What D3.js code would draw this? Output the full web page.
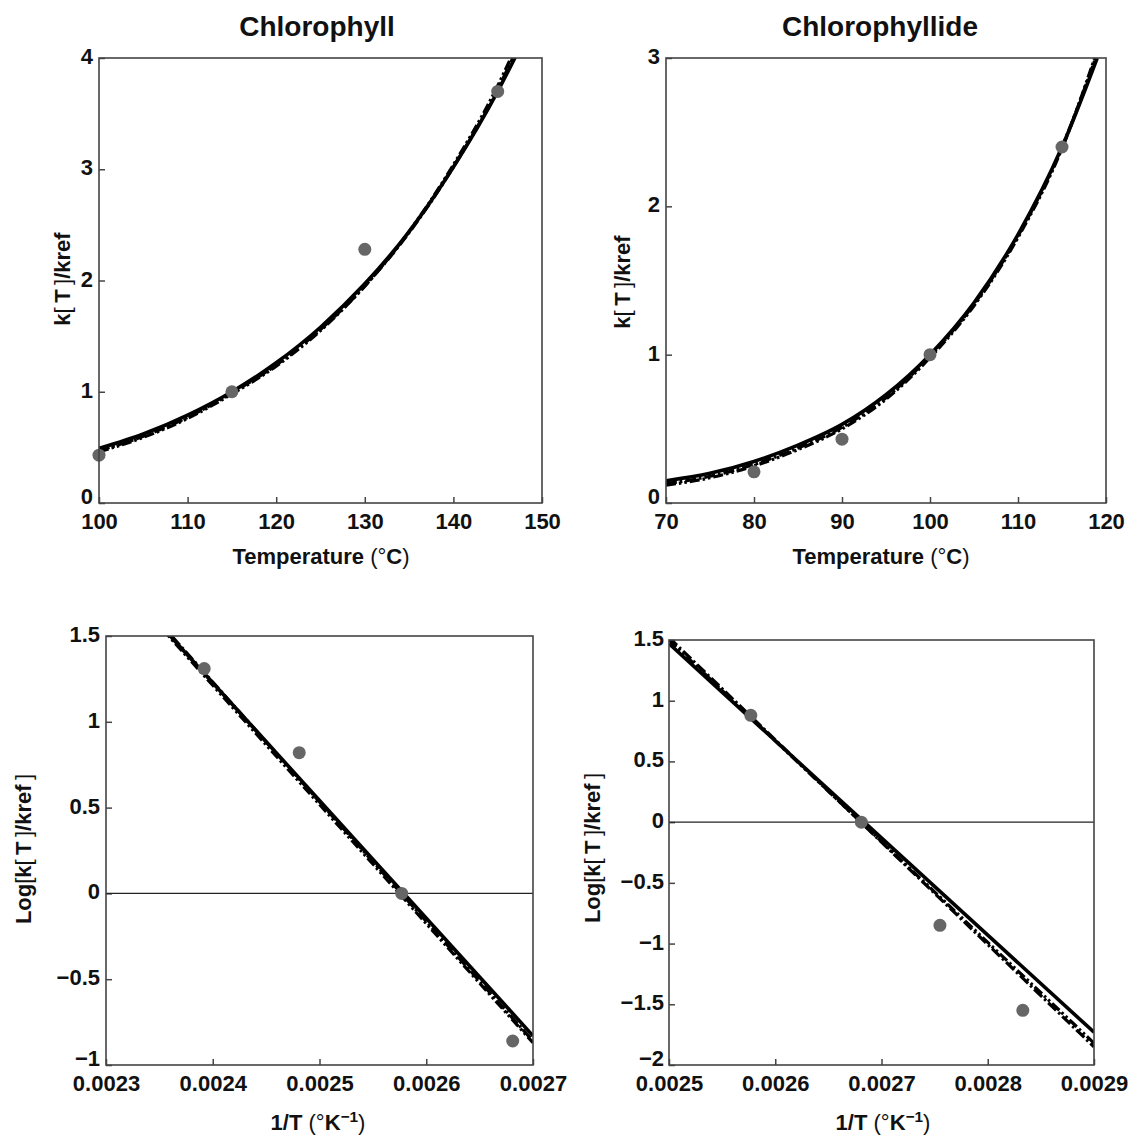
<!DOCTYPE html>
<html>
<head>
<meta charset="utf-8">
<script src="https://cdnjs.cloudflare.com/ajax/libs/d3/7.8.5/d3.min.js"></script>
<style>
body { margin: 0; background: #fff; }
svg { display: block; font-family: "Liberation Sans", Arial, sans-serif; }
.tick text { font-size: 22px; font-weight: bold; fill: #111; }
.tick line { stroke: #444; stroke-width: 1.5; }
</style>
</head>
<body>
<div id="chart"></div>
<script>
var width = 1129;
var height = 1141;

// measured points, chlorophyll (temperature in C, k[T]/kref)
var chlTemp = [100, 115, 130, 145];
var chlRatio = [0.43, 1.0, 2.28, 3.7];
// fitted curves
var chlFitTemp = [100, 105, 110, 115, 120, 125, 130, 135, 140, 145, 147];
var chlFitSolid = [0.49, 0.62, 0.79, 1.0, 1.26, 1.58, 1.97, 2.44, 3.02, 3.7, 4.01];
var chlFitDashDot = [0.47, 0.6, 0.77, 0.99, 1.24, 1.56, 1.95, 2.43, 3.02, 3.72, 4.05];
var chlFitDashDotDot = [0.46, 0.59, 0.76, 0.98, 1.23, 1.55, 1.95, 2.44, 3.04, 3.75, 4.09];

// measured points, chlorophyllide
var chlideTemp = [80, 90, 100, 115];
var chlideRatio = [0.21, 0.43, 1.0, 2.4];
var chlideFitTemp = [70, 75, 80, 85, 90, 95, 100, 105, 110, 115, 119];
var chlideFitSolid = [0.15, 0.2, 0.28, 0.39, 0.53, 0.73, 1.0, 1.35, 1.81, 2.4, 3.0];
var chlideFitDashDot = [0.13, 0.18, 0.26, 0.37, 0.51, 0.71, 0.99, 1.34, 1.8, 2.4, 3.03];
var chlideFitDashDotDot = [0.12, 0.17, 0.25, 0.36, 0.5, 0.7, 0.98, 1.33, 1.79, 2.39, 3.05];

// Arrhenius plots (1/T in 1/K, ln of ratio)
var chlInvT = [0.002392, 0.002481, 0.002577, 0.002681];
var chlLog = [1.31, 0.82, 0, -0.86];
var chlLineX = [0.00235, 0.0027];
var chlLineSolid = [1.57, -0.83];
var chlLineDashDot = [1.58, -0.86];
var chlLineDashDotDot = [1.56, -0.87];

var chlideInvT = [0.002577, 0.002681, 0.002755, 0.002833];
var chlideLog = [0.88, 0, -0.85, -1.55];
var chlideLineX = [0.0025, 0.0029];
var chlideLineSolid = [1.47, -1.73];
var chlideLineDashDot = [1.52, -1.85];
var chlideLineDashDotDot = [1.5, -1.82];

// tick values
var chlTempTicks = [100, 110, 120, 130, 140, 150];
var chlRatioTicks = [0, 1, 2, 3, 4];
var chlideTempTicks = [70, 80, 90, 100, 110, 120];
var chlideRatioTicks = [0, 1, 2, 3];
var chlInvTicks = [0.0023, 0.0024, 0.0025, 0.0026, 0.0027];
var chlLogTicks = [-1, -0.5, 0, 0.5, 1, 1.5];
var chlideInvTicks = [0.0025, 0.0026, 0.0027, 0.0028, 0.0029];
var chlideLogTicks = [-2, -1.5, -1, -0.5, 0, 0.5, 1, 1.5];

var svg = d3.select("#chart").append("svg")
.attr("width", width)
.attr("height", height);

function zip(xs, ys) {
return xs.map(function(x, i) { return [x, ys[i]]; });
}

var fmtInt = d3.format("d");
var fmtLog = d3.format("~g");
var fmtInv = d3.format(".4f");

function drawPanel(p) {
var x = d3.scaleLinear().domain(p.xDomain).range([p.left, p.right]);
var y = d3.scaleLinear().domain(p.yDomain).range([p.bottom, p.top]);

var g = svg.append("g");

// clip so curves stop at the frame
g.append("clipPath").attr("id", p.id)
    .append("rect")
    .attr("x", p.left).attr("y", p.top)
    .attr("width", p.right - p.left).attr("height", p.bottom - p.top);

g.append("g")
    .attr("transform", "translate(0," + p.bottom + ")")
    .call(d3.axisBottom(x).tickValues(p.xTicks).tickFormat(p.xFormat)
        .tickSizeInner(-6).tickSizeOuter(0).tickPadding(10))
    .select(".domain").remove();

var ya = g.append("g")
    .attr("transform", "translate(" + p.left + ",0)")
    .call(d3.axisLeft(y).tickValues(p.yTicks).tickFormat(p.yFormat)
        .tickSizeInner(-6).tickSizeOuter(0).tickPadding(p.yPad));
ya.select(".domain").remove();
// lift the y labels a little, the lowest one more so it clears the x labels
ya.selectAll(".tick text").attr("dy", function(d) {
    return d === p.yDomain[0] ? "0.02em" : "0.25em";
});

// zero line on the log plots
if (p.zeroLine) {
    g.append("line")
    .attr("x1", p.left).attr("x2", p.right)
    .attr("y1", y(0)).attr("y2", y(0))
    .attr("stroke", "#222").attr("stroke-width", 1.3);
}

var line = d3.line()
    .x(function(d) { return x(d[0]); })
    .y(function(d) { return y(d[1]); })
    .curve(p.curve);

var fits = [
    {vals: p.fitDashDotDot, dash: "10,3,2.5,3,2.5,3", w: 3.2},
    {vals: p.fitDashDot, dash: "11,3,2.5,3", w: 3.2},
    {vals: p.fitSolid, dash: null, w: 3.6}
];
g.append("g").attr("clip-path", "url(#" + p.id + ")")
    .selectAll("path")
    .data(fits)
    .enter().append("path")
    .attr("d", function(d) { return line(zip(p.fitX, d.vals)); })
    .attr("fill", "none")
    .attr("stroke", "#000")
    .attr("stroke-width", function(d) { return d.w; })
    .attr("stroke-dasharray", function(d) { return d.dash; });

g.selectAll("circle")
    .data(zip(p.ptX, p.ptY))
    .enter().append("circle")
    .attr("cx", function(d) { return x(d[0]); })
    .attr("cy", function(d) { return y(d[1]); })
    .attr("r", 6.5)
    .attr("fill", "#666");

// frame
g.append("rect")
    .attr("x", p.left).attr("y", p.top)
    .attr("width", p.right - p.left).attr("height", p.bottom - p.top)
    .attr("fill", "none")
    .attr("stroke", "#444")
    .attr("stroke-width", 1.6);

return g;
}

// helper for text made of bold and plain pieces
function richText(el, parts) {
parts.forEach(function(pt) {
    var t = el.append("tspan").text(pt[0])
    .attr("font-weight", pt[1] ? "bold" : "normal");
    if (pt[2]) t.attr("baseline-shift", "super").attr("font-size", "0.7em");
});
}

var panels = [
{id: "clipA", left: 99, right: 542, top: 58, bottom: 503,
    xDomain: [100, 150], yDomain: [0, 4], xTicks: chlTempTicks, yTicks: chlRatioTicks,
    xFormat: fmtInt, yFormat: fmtInt, yPad: 6, curve: d3.curveMonotoneX,
    fitX: chlFitTemp, fitSolid: chlFitSolid, fitDashDot: chlFitDashDot, fitDashDotDot: chlFitDashDotDot,
    ptX: chlTemp, ptY: chlRatio},
{id: "clipB", left: 666, right: 1106, top: 58, bottom: 503,
    xDomain: [70, 120], yDomain: [0, 3], xTicks: chlideTempTicks, yTicks: chlideRatioTicks,
    xFormat: fmtInt, yFormat: fmtInt, yPad: 6, curve: d3.curveMonotoneX,
    fitX: chlideFitTemp, fitSolid: chlideFitSolid, fitDashDot: chlideFitDashDot, fitDashDotDot: chlideFitDashDotDot,
    ptX: chlideTemp, ptY: chlideRatio},
{id: "clipC", left: 106, right: 533, top: 636, bottom: 1065, zeroLine: true,
    xDomain: [0.0023, 0.0027], yDomain: [-1, 1.5], xTicks: chlInvTicks, yTicks: chlLogTicks,
    xFormat: fmtInv, yFormat: fmtLog, yPad: 6, curve: d3.curveLinear,
    fitX: chlLineX, fitSolid: chlLineSolid, fitDashDot: chlLineDashDot, fitDashDotDot: chlLineDashDotDot,
    ptX: chlInvT, ptY: chlLog},
{id: "clipD", left: 669, right: 1094, top: 640, bottom: 1065, zeroLine: true,
    xDomain: [0.0025, 0.0029], yDomain: [-2, 1.5], xTicks: chlideInvTicks, yTicks: chlideLogTicks,
    xFormat: fmtInv, yFormat: fmtLog, yPad: 5, curve: d3.curveLinear,
    fitX: chlideLineX, fitSolid: chlideLineSolid, fitDashDot: chlideLineDashDot, fitDashDotDot: chlideLineDashDotDot,
    ptX: chlideInvT, ptY: chlideLog}
];

panels.forEach(drawPanel);

// titles
var titles = [["Chlorophyll", 317], ["Chlorophyllide", 880]];
titles.forEach(function(t) {
svg.append("text")
    .attr("x", t[1]).attr("y", 36)
    .attr("text-anchor", "middle")
    .attr("font-size", 28).attr("font-weight", "bold")
    .attr("fill", "#111")
    .text(t[0]);
});

// x axis titles
[321, 881].forEach(function(cx) {
var t = svg.append("text")
    .attr("x", cx).attr("y", 564)
    .attr("text-anchor", "middle")
    .attr("font-size", 22).attr("fill", "#111");
richText(t, [["Temperature ", true], ["(\u00b0", false], ["C", true], [")", false]]);
});
[318, 883].forEach(function(cx) {
var t = svg.append("text")
    .attr("x", cx).attr("y", 1130)
    .attr("text-anchor", "middle")
    .attr("font-size", 22).attr("fill", "#111");
richText(t, [["1/T ", true], ["(\u00b0", false], ["K", true], ["\u22121", true, true], [")", false]]);
});

// y axis titles
[[70, 279], [630, 282]].forEach(function(pos) {
var t = svg.append("text")
    .attr("transform", "translate(" + pos[0] + "," + pos[1] + ") rotate(-90)")
    .attr("text-anchor", "middle")
    .attr("font-size", 22).attr("fill", "#111");
richText(t, [["k", true], ["[\u2009", false], ["T", true], ["\u2009]", false], ["/kref", true]]);
});
[[31, 849], [600, 848]].forEach(function(pos) {
var t = svg.append("text")
    .attr("transform", "translate(" + pos[0] + "," + pos[1] + ") rotate(-90)")
    .attr("text-anchor", "middle")
    .attr("font-size", 22).attr("fill", "#111");
richText(t, [["Log", true], ["[", false], ["k", true], ["[\u2009", false], ["T", true], ["\u2009]", false], ["/kref", true], ["\u2009]", false]]);
});
</script>
</body>
</html>
